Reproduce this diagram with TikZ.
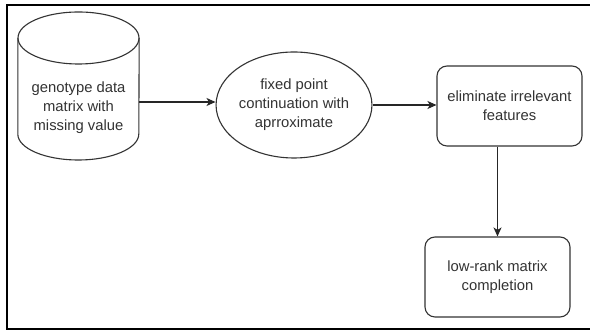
\documentclass[tikz,border=0pt]{standalone}
\usepackage{fontspec}
\setmainfont{Liberation Sans}
\usetikzlibrary{arrows.meta,shapes.geometric}
\definecolor{ink}{HTML}{333333}
\tikzset{
  txt/.style={font=\fontsize{14.8}{19}\selectfont, text=ink, align=center, inner sep=0pt},
  shapeline/.style={draw=ink, line width=1.1pt},
  roundbox/.style={txt, shapeline, rectangle, rounded corners=10pt, minimum width=145pt, minimum height=80pt},
  oval/.style={txt, shapeline, ellipse, minimum width=144pt, minimum height=106pt},
  arr/.style={draw=black!85, line width=1.1pt, -{Stealth[length=9pt,width=8pt,inset=2.5pt]}}
}
\begin{document}
\begin{tikzpicture}[x=1pt,y=1pt]
\useasboundingbox (0,0) rectangle (590,331);
\clip (0,0) rectangle (590,331);
\fill[white] (0,0) rectangle (590,331);
% outer frame
\draw[line width=2pt, black] (6.5,2) rectangle (600,325.5);
% cylinder
\node[minimum width=121pt, minimum height=148pt, inner sep=0pt] (cyl) at (78.5,245) {};
\draw[shapeline] (cyl.west |- 0,293) -- (cyl.west |- 0,197)
  arc[start angle=180, end angle=360, x radius=60.5pt, y radius=26pt] -- (cyl.east |- 0,293);
\draw[shapeline] (78.5,293) ellipse[x radius=60.5pt, y radius=26pt];
\node[txt] (cyltxt) at (78.5,223) {genotype data\\matrix with\\missing value};
% ellipse
\node[oval] (ell) at (294,226) {fixed point\\continuation with\\aprroximate};
% boxes
\node[roundbox] (box1) at (509.5,225) {eliminate irrelevant\\features};
\node[roundbox] (box2) at (497.5,54) {low-rank matrix\\completion};
% connectors
\draw[arr] ([yshift=3pt]cyl.east |- ell.west) -- ([yshift=3pt]ell.west);
\draw[arr] (ell.east) -- (ell.east -| box1.west);
\draw[arr] (box2.north |- box1.south) -- (box2.north);
\end{tikzpicture}
\end{document}
